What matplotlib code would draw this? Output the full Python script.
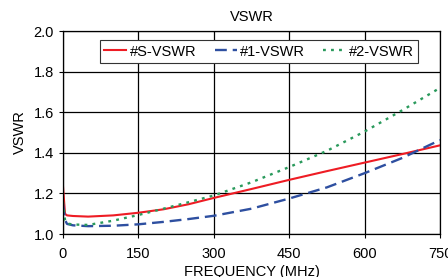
import matplotlib
matplotlib.use("Agg")
import matplotlib.pyplot as plt

plt.rcParams['font.family'] = ['Liberation Sans', 'DejaVu Sans']

# frequency (MHz) and VSWR
freq = [0, 4, 8, 20, 50, 100, 150, 200, 250, 300, 375, 450, 525, 600, 675, 750]
vswr_s = [1.235, 1.10, 1.092, 1.089, 1.086, 1.092, 1.105, 1.122, 1.147, 1.178,
          1.222, 1.267, 1.31, 1.352, 1.394, 1.437]
vswr_1 = [1.15, 1.07, 1.05, 1.043, 1.039, 1.041, 1.048, 1.06, 1.074, 1.09,
          1.125, 1.175, 1.23, 1.30, 1.375, 1.463]
vswr_2 = [1.16, 1.07, 1.052, 1.047, 1.045, 1.066, 1.094, 1.125, 1.157, 1.19,
          1.255, 1.33, 1.41, 1.505, 1.61, 1.72]

fig = plt.figure(figsize=(4.48, 2.77), dpi=100)
ax = fig.add_axes([0.1406, 0.155, 0.8416, 0.733])

ax.plot(freq, vswr_s, color="#ee1c24", lw=1.5, label="#S-VSWR")
ax.plot(freq, vswr_1, color="#2e4fa0", lw=1.7, dashes=(5, 2.5), label="#1-VSWR")
ax.plot(freq, vswr_2, color="#2a9a5c", lw=1.7, dashes=(1.2, 2.2), label="#2-VSWR")

ax.set_xlim(0, 750)
ax.set_ylim(1.0, 2.0)
ax.set_xticks([0, 150, 300, 450, 600, 750])
ax.set_yticks([1.0, 1.2, 1.4, 1.6, 1.8, 2.0])
ax.set_yticklabels(["1.0", "1.2", "1.4", "1.6", "1.8", "2.0"])
ax.grid(True, color="black", lw=0.9)
ax.tick_params(labelsize=10.5, length=3, width=0.8, color="black")
ax.tick_params(axis="x", pad=6)
for sp in ax.spines.values():
    sp.set_color("black")
    sp.set_linewidth(0.9)

ax.set_title("VSWR", fontsize=10.5, pad=7)
ax.set_xlabel("FREQUENCY (MHz)", fontsize=10.5, labelpad=3)
ax.set_ylabel("VSWR", fontsize=10.5, labelpad=5)

leg = ax.legend(loc="upper left", bbox_to_anchor=(0.098, 0.955), ncol=3, fontsize=10.5,
                frameon=True, fancybox=False, framealpha=1, edgecolor="#333333",
                handlelength=1.5, columnspacing=1.25, handletextpad=0.25,
                borderpad=0.3, borderaxespad=0)
leg.get_frame().set_linewidth(0.8)

fig.savefig("out.png", dpi=100)
